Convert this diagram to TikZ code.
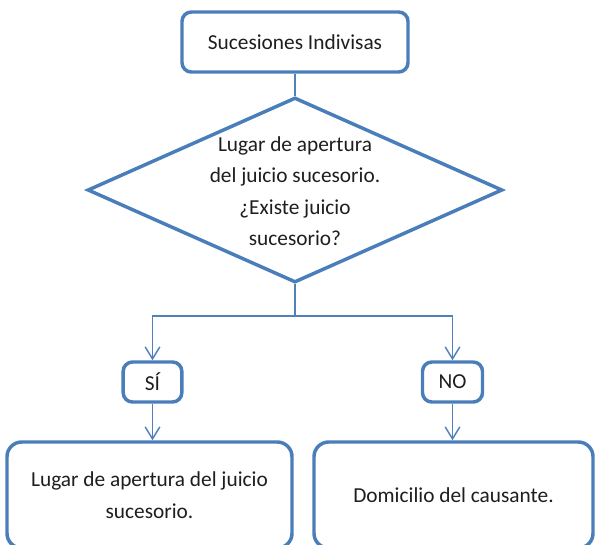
\documentclass[tikz,border=0pt]{standalone}
\usepackage{fontspec}
\setmainfont{Carlito}
\usetikzlibrary{shapes.geometric,arrows.meta}
\definecolor{boxblue}{HTML}{4A7EBB}
\definecolor{linkblue}{HTML}{4F81BD}
\definecolor{txt}{HTML}{1E1E1E}
\tikzset{
  px/.style={x=0.75pt,y=-0.75pt},
  boxnode/.style={draw=boxblue,line width=2.6pt,rounded corners=7pt,fill=white,inner sep=0pt,text=txt,align=center,font=\fontsize{16pt}{23.6pt}\selectfont},
  bignode/.style={boxnode,rounded corners=11pt},
  dianode/.style={draw=boxblue,line width=2.6pt,shape=diamond,inner sep=0pt,minimum width=311.25pt,minimum height=138.75pt},
  label/.style={text=txt,align=center,font=\fontsize{16pt}{23.6pt}\selectfont,inner sep=0pt},
  conn/.style={draw=linkblue,line width=1.1pt},
  arr/.style={conn,-{Straight Barb[length=9pt,width=11pt,line width=1.1pt]}}
}
\begin{document}
\begin{tikzpicture}[px]
\useasboundingbox (0,0) rectangle (595,544);
\node[boxnode,minimum width=169.5pt,minimum height=45pt] (top) at (295,42) {Sucesiones Indivisas};
\node[dianode] (dia) at (295,190) {};
\node[label] (diatext) at (295,191) {Lugar de apertura\\del juicio sucesorio.\\¿Existe juicio\\sucesorio?};
\coordinate (j) at (295,316);
\node[boxnode,minimum width=44pt,minimum height=30pt] (si) at (152.5,382) {SÍ};
\node[boxnode,minimum width=45pt,minimum height=30pt] (no) at (452.5,382) {NO};
\node[bignode,minimum width=213.75pt,minimum height=79.5pt] (L) at (149.5,495) {Lugar de apertura del juicio\\sucesorio.};
\node[bignode,minimum width=209.25pt,minimum height=79.5pt] (R) at (453.5,495) {Domicilio del causante.};
\draw[conn] (top.south) -- (dia.north);
\draw[conn] (dia.south) -- (j);
\draw[arr] (j) -| (si.north);
\draw[arr] (j) -| (no.north);
\draw[arr] (si.south) -- (si.south |- L.north);
\draw[arr] (no.south) -- (no.south |- R.north);
\end{tikzpicture}
\end{document}
